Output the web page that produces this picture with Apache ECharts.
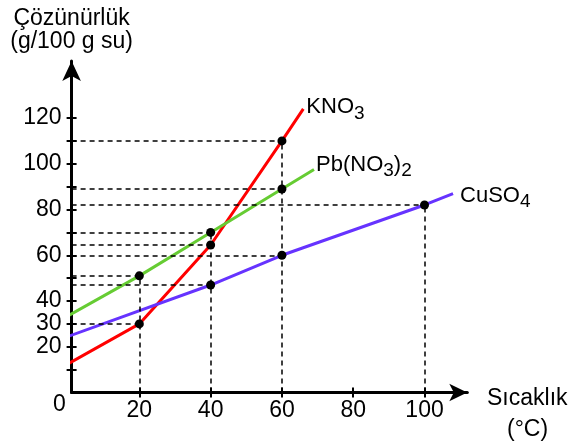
<!DOCTYPE html>
<html>
<head>
<meta charset="utf-8">
<script src="https://cdn.jsdelivr.net/npm/echarts@6/dist/echarts.min.js"></script>
<style>
  html, body { margin: 0; padding: 0; background: #fff; }
  #main { width: 580px; height: 444px; }
</style>
</head>
<body>
<div id="main"></div>
<script>
// eğriler: sıcaklık (x) - çözünürlük (y)
const knoX = [0, 20, 40, 60, 66];
const knoY = [12.5, 30, 64.5, 110, 124];
const pbX = [0, 20, 40, 60, 69];
const pbY = [33.5, 51, 70, 89, 97.5];
const cuX = [0, 40, 60, 100, 108];
const cuY = [24.5, 47, 60, 82, 87];

// işaretli noktalar
const knoDots = [[20, 30], [40, 64.5], [60, 110]];
const pbDots = [[20, 51], [40, 70], [60, 89]];
const cuDots = [[40, 47], [60, 60], [100, 82]];

// eksenler
const xTicks = [20, 40, 60, 80, 100];
const yTicks = [10, 20, 30, 40, 50, 60, 70, 80, 90, 100, 110, 120];
const yLabels = [20, 30, 40, 60, 80, 100, 120];
const xMin = 1, xMax = 112, yMax = 145;

const FONT = 'Liberation Sans, Arial, sans-serif';

function pairs(xs, ys) {
  return xs.map((x, i) => [x, ys[i]]);
}

// eğri sonundaki formül etiketi
function endLabel(text, dist, off) {
  return {
    show: true, distance: dist, offset: off,
    formatter: () => text,
    rich: {
      m: { fontFamily: FONT, fontSize: 22, color: '#000', lineHeight: 32 },
      s: { fontFamily: FONT, fontSize: 19, color: '#000', verticalAlign: 'bottom' }
    }
  };
}

// kesikli yardımcı çizgiler
const allDots = knoDots.concat(pbDots, cuDots);
const guides = [];
allDots.forEach(p => {
  guides.push([{ coord: [xMin, p[1]] }, { coord: [p[0], p[1]] }]);
});
const topAt = {};
allDots.forEach(p => {
  topAt[p[0]] = Math.max(topAt[p[0]] || 0, p[1]);
});
Object.keys(topAt).forEach(x => {
  guides.push([{ coord: [+x, 0] }, { coord: [+x, topAt[x]] }]);
});

const myChart = echarts.init(document.getElementById('main'));

const option = {
  animation: false,
  grid: {
    left: 71.6, right: 112.7, top: 60.9, bottom: 51.5,
    containLabel: false, outerBoundsMode: 'none'
  },
  xAxis: [{
    type: 'value', min: xMin, max: xMax,
    splitLine: { show: false },
    axisLine: {
      lineStyle: { color: '#000', width: 3 },
      symbol: ['none', 'arrow'], symbolSize: [13, 18]
    },
    axisTick: { length: 5, lineStyle: { color: '#000', width: 2 }, customValues: xTicks },
    axisLabel: { margin: 7, color: '#000', fontFamily: FONT, fontSize: 23, hideOverlap: false, customValues: xTicks }
  }, {
    type: 'value', min: xMin, max: xMax, position: 'bottom',
    splitLine: { show: false },
    axisLine: { show: false },
    axisTick: { inside: true, length: 5, lineStyle: { color: '#000', width: 2 }, customValues: xTicks },
    axisLabel: { show: false }
  }],
  yAxis: [{
    type: 'value', min: 0, max: yMax,
    splitLine: { show: false },
    axisLine: {
      lineStyle: { color: '#000', width: 3 },
      symbol: ['none', 'arrow'], symbolSize: [14, 20]
    },
    axisTick: { length: 5, lineStyle: { color: '#000', width: 2 }, customValues: yTicks },
    axisLabel: { margin: 10, color: '#000', fontFamily: FONT, fontSize: 23, hideOverlap: false, customValues: yLabels },
    name: 'Çözünürlük\n(g/100 g su)', nameLocation: 'end', nameGap: 8,
    nameTextStyle: {
      color: '#000', fontFamily: FONT, fontSize: 23, lineHeight: 23,
      align: 'center', verticalAlign: 'bottom'
    }
  }, {
    type: 'value', min: 0, max: yMax, position: 'left',
    splitLine: { show: false },
    axisLine: { show: false },
    axisTick: { inside: true, length: 5, lineStyle: { color: '#000', width: 2 }, customValues: yTicks },
    axisLabel: { show: false }
  }],
  graphic: [{
    type: 'text', left: 53, top: 393,
    style: { text: '0', fill: '#000', font: '23px ' + FONT }
  }, {
    type: 'text', left: 487, top: 387,
    style: { text: 'Sıcaklık', fill: '#000', font: '23px ' + FONT }
  }, {
    type: 'text', left: 507, top: 418,
    style: { text: '(°C)', fill: '#000', font: '23px ' + FONT }
  }],
  series: [
    {
      name: 'guides', type: 'line', data: [], z: 1, silent: true,
      markLine: {
        symbol: 'none', silent: true, animation: false,
        label: { show: false },
        lineStyle: { color: '#000', width: 1.5, type: [5, 4] },
        data: guides
      }
    },
    {
      name: 'KNO3', type: 'line', z: 2, showSymbol: false, symbol: 'none',
      lineStyle: { color: '#ff0000', width: 3 },
      endLabel: endLabel('{m|KNO}{s|3}', 3, [0, -2]),
      data: pairs(knoX, knoY)
    },
    {
      name: 'Pb(NO3)2', type: 'line', z: 2, showSymbol: false, symbol: 'none',
      lineStyle: { color: '#66cc33', width: 3 },
      endLabel: endLabel('{m|Pb(NO}{s|3}{m|)}{s|2}', 2, [0, -5]),
      data: pairs(pbX, pbY)
    },
    {
      name: 'CuSO4', type: 'line', z: 2, showSymbol: false, symbol: 'none',
      lineStyle: { color: '#6633ff', width: 3 },
      endLabel: endLabel('{m|CuSO}{s|4}', 7, [0, 2]),
      data: pairs(cuX, cuY)
    },
    {
      name: 'dots', type: 'scatter', z: 3, silent: true,
      symbolSize: 9, itemStyle: { color: '#000', opacity: 1 },
      data: allDots
    }
  ]
};

myChart.setOption(option);
</script>
</body>
</html>
